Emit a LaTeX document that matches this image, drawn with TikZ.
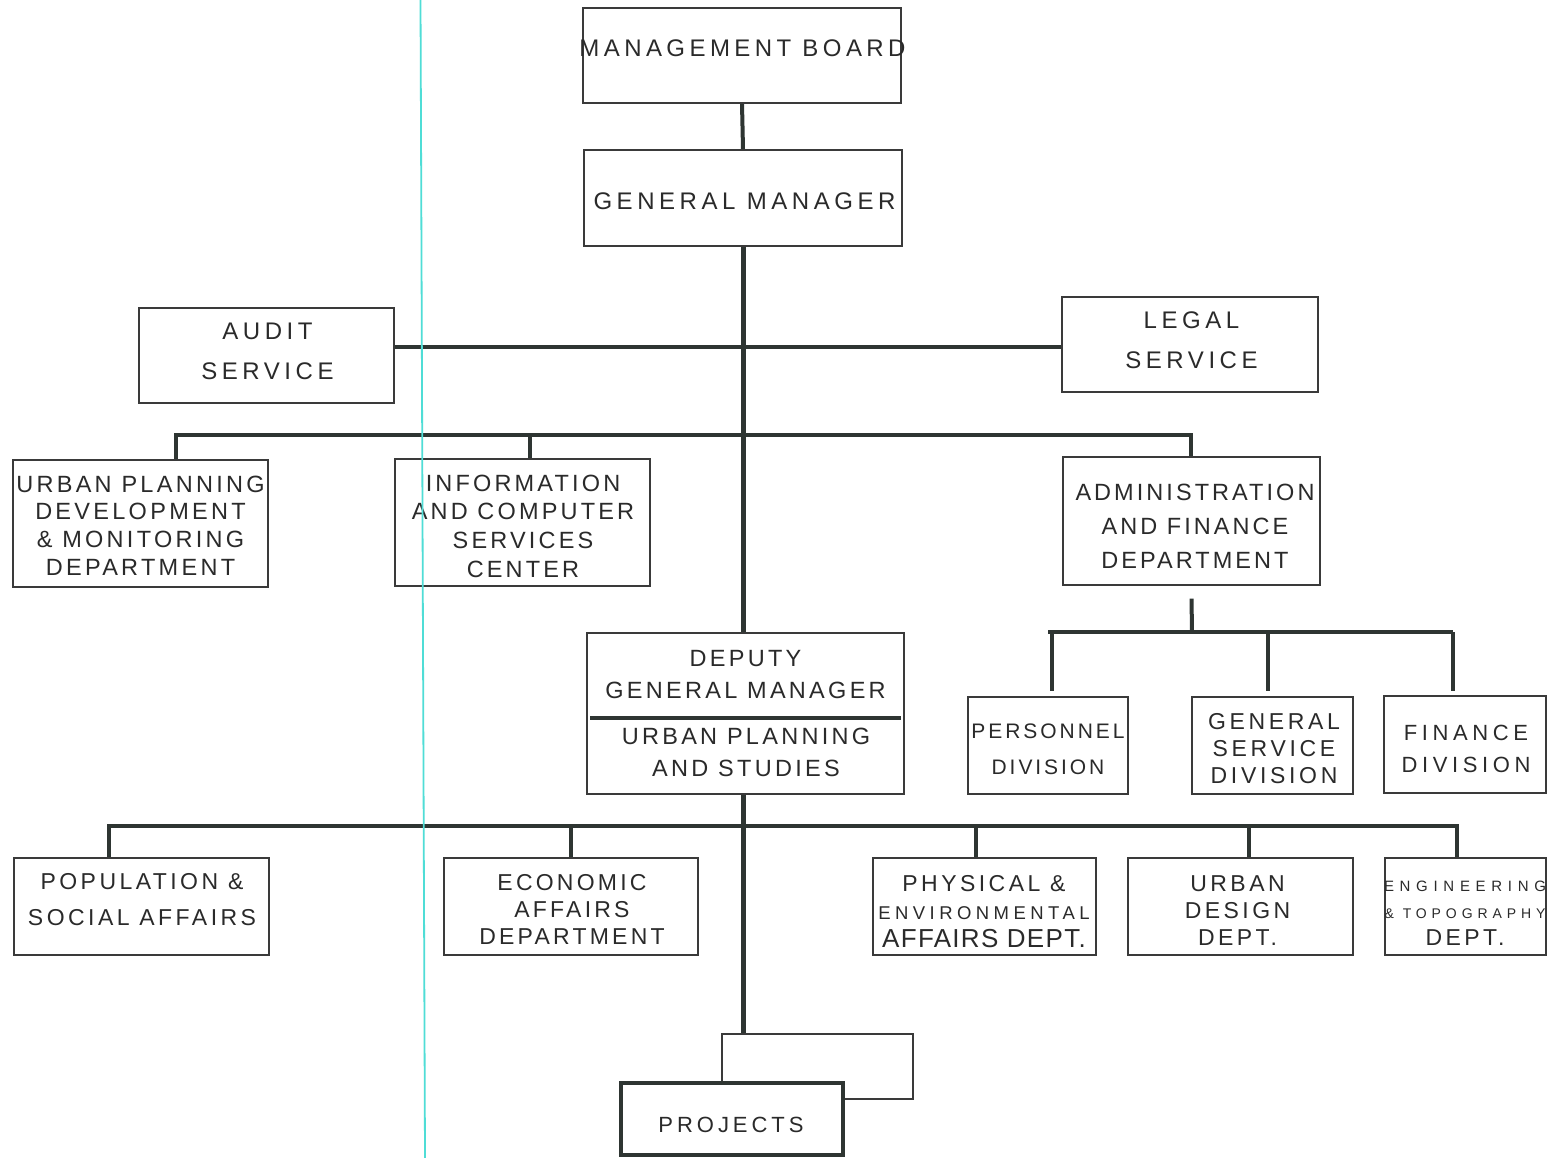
\documentclass[tikz,border=0pt]{standalone}
\usepackage{fontspec}
\setmainfont{Liberation Sans}
\usetikzlibrary{fit,calc}
\pgfdeclarelayer{paper}
\pgfdeclarelayer{bg}
\pgfsetlayers{paper,bg,main}
% size (pt), tracking (LetterSpace), baselineskip (pt)
\newcommand\lab[3]{\fontsize{#1pt}{#3pt}\selectfont\addfontfeature{LetterSpace=#2}}
\definecolor{linec}{HTML}{2E3532}
\definecolor{boxc}{HTML}{3A3A3A}
\definecolor{textc}{HTML}{2A2A2A}
\definecolor{guide}{HTML}{4FDDD6}
\tikzset{
  box/.style={draw=boxc, line width=1.3pt, fill=white, inner sep=0pt},
  heavybox/.style={draw=linec, line width=4pt, fill=white, inner sep=0pt},
  conn/.style={draw=linec, line width=4pt},
  trunk/.style={draw=linec, line width=5pt},
  txt/.style={text=textc, align=center, inner sep=0pt},
}
\begin{document}
\begin{tikzpicture}[x=1pt,y=-1pt]
\begin{pgfonlayer}{paper}
\fill[white] (0,0) rectangle (1554,1158);
\end{pgfonlayer}
\useasboundingbox (0,0) rectangle (1554,1158);

% ---------- boxes ----------
\node[box, fit={(583,8)(901,103)}]     (mb) {};
\node[box, fit={(584,150)(902,246)}]   (gm) {};
\node[box, fit={(139,308)(394,403)}]   (audit) {};
\node[box, fit={(1062,297)(1318,392)}] (legal) {};
\node[box, fit={(13,460)(268,587)}]    (upd) {};
\node[box, fit={(395,459)(650,586)}]   (info) {};
\node[box, fit={(1063,457)(1320,585)}] (admin) {};
\node[box, fit={(587,633)(904,794)}]   (dgm) {};
\node[box, fit={(968,697)(1128,794)}]  (pers) {};
\node[box, fit={(1192,697)(1353,794)}] (gsd) {};
\node[box, fit={(1384,696)(1546,793)}] (fin) {};
\node[box, fit={(14,858)(269,955)}]    (pop) {};
\node[box, fit={(444,858)(698,955)}]   (eco) {};
\node[box, fit={(873,858)(1096,955)}]  (phy) {};
\node[box, fit={(1128,858)(1353,955)}] (udd) {};
\node[box, fit={(1385,858)(1546,955)}] (eng) {};
\node[box, fit={(722,1034)(913,1099)}] (projhold) {};
\node[heavybox, fit={(621,1083)(843,1155)}] (proj) {};

% divider inside the deputy general manager box
\coordinate (dv) at (745,718);
\draw[linec, line width=4pt] ($(dgm.west |- dv)+(4,0)$) -- ($(dgm.east |- dv)+(-4,0)$);

% ---------- labels ----------
\node[txt, font=\lab{24}{18.5}{28}] (mb-t) at (742.5,48) {MANAGEMENT BOARD};
\node[txt, font=\lab{24}{19}{28}] (gm-t) at (744.5,201) {GENERAL MANAGER};
\node[txt, font=\lab{24}{19}{40}] (audit-t) at (267.5,351) {AUDIT\\SERVICE};
\node[txt, font=\lab{24}{19}{40}] (legal-t) at (1191.5,340) {LEGAL\\SERVICE};
\node[txt, font=\lab{23.5}{14}{27.7}] (upd-t) at (140.5,525.5)
  {URBAN PLANNING\\DEVELOPMENT\\\& MONITORING\\DEPARTMENT};
\node[txt, font=\lab{23.5}{13.5}{28.7}] (info-t) at (523,526)
  {INFORMATION\\AND COMPUTER\\SERVICES\\CENTER};
\node[txt, font=\lab{23.5}{13}{34}] (admin-t) at (1195,526)
  {ADMINISTRATION\\AND FINANCE\\DEPARTMENT};
\node[txt, font=\lab{23.5}{14}{32}] (dgm-t1) at (745.5,675) {DEPUTY\\GENERAL MANAGER};
\node[txt, font=\lab{23.5}{14}{32}] (dgm-t2) at (746,752) {URBAN PLANNING\\AND STUDIES};
\node[txt, font=\lab{21}{14}{36}] (pers-t) at (1048,749) {PERSONNEL\\DIVISION};
\node[txt, font=\lab{23}{16}{27}] (gsd-t) at (1274,749) {GENERAL\\SERVICE\\DIVISION};
\node[txt, font=\lab{22}{21}{32}] (fin-t) at (1466,749) {FINANCE\\DIVISION};
\node[txt, font=\lab{23}{15}{36}] (pop-t) at (142,900) {POPULATION \&\\SOCIAL AFFAIRS};
\node[txt, font=\lab{23}{14}{27}] (eco-t) at (572,909) {ECONOMIC\\AFFAIRS\\DEPARTMENT};
\node[txt, font=\lab{23}{15}{28}] (phy-t) at (984,912)
  {PHYSICAL \&\\{\lab{18.5}{24}{28}ENVIRONMENTAL}\\{\lab{26}{5}{28}AFFAIRS DEPT.}};
\node[txt, font=\lab{23}{15}{27}] (udd-t) at (1237.5,911) {URBAN\\DESIGN\\DEPT.};
\node[txt, font=\lab{23}{15}{27}] (eng-t) at (1465,913)
  {{\lab{15}{38}{27}ENGINEERING}\\{\lab{14}{35}{27}\& TOPOGRAPHY}\\DEPT.};
\node[txt, font=\lab{22}{18}{28}] (proj-t) at (731,1125) {PROJECTS};

% ---------- connectors ----------
\begin{pgfonlayer}{bg}
\draw[conn] (mb.south) -- (gm.north);
\draw[trunk] (gm.south) -- (gm.south |- projhold.north);
% staff services
\coordinate (b1) at (743,347);
\draw[conn] (audit.east |- b1) -- (legal.west |- b1);
% departments under the general manager
\coordinate (b2w) at (176,435);
\coordinate (b2i) at (530,435);
\coordinate (b2e) at (1191,435);
\draw[conn] (b2w |- upd.north) -- (b2w) -- (b2e) -- (b2e |- admin.north);
\draw[conn] (b2i) -- (b2i |- info.north);
% administration and finance divisions
\coordinate (b3) at (1192,632);
\coordinate (b3w) at (1048,632);
\coordinate (b3e) at (1453,632);
\coordinate (d3a) at (1052,632);
\coordinate (d3b) at (1268,632);
\draw[conn] ($(admin.south)+(0,13)$) -- (b3);
\draw[conn] (b3w) -- (b3e);
\draw[conn] (d3a) -- ($(d3a |- pers.north)+(0,-5)$);
\draw[conn] (d3b) -- ($(d3b |- gsd.north)+(0,-5)$);
\draw[conn] (b3e) -- ($(b3e |- fin.north)+(0,-4)$);
% departments under the deputy general manager
\coordinate (b4w) at (109,826);
\coordinate (b4e) at (1457,826);
\coordinate (d4a) at (571,826);
\coordinate (d4b) at (976,826);
\coordinate (d4c) at (1249,826);
\draw[conn] (b4w |- pop.north) -- (b4w) -- (b4e) -- (b4e |- eng.north);
\draw[conn] (d4a) -- (d4a |- eco.north);
\draw[conn] (d4b) -- (d4b |- phy.north);
\draw[conn] (d4c) -- (d4c |- udd.north);
\end{pgfonlayer}

% thin turquoise rule running down the sheet
\draw[guide, line width=1.8pt] (420.5,0) -- (425,1158);
\end{tikzpicture}
\end{document}
